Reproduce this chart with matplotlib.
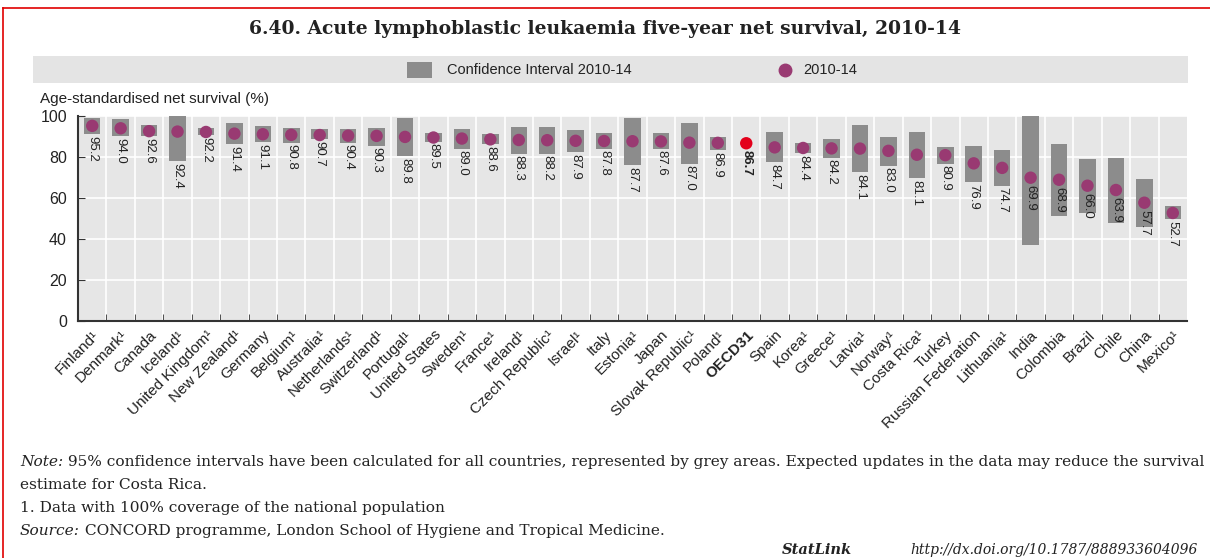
import numpy as np
import matplotlib.pyplot as plt
from matplotlib.patches import Rectangle
from matplotlib.lines import Line2D
from matplotlib.ticker import FixedLocator

plt.rcParams['font.family'] = ['Liberation Sans', 'DejaVu Sans']

countries = ["Finland¹", "Denmark¹", "Canada", "Iceland¹", "United Kingdom¹", "New Zealand¹",
             "Germany", "Belgium¹", "Australia¹", "Netherlands¹", "Switzerland¹", "Portugal¹",
             "United States", "Sweden¹", "France¹", "Ireland¹", "Czech Republic¹", "Israel¹",
             "Italy", "Estonia¹", "Japan", "Slovak Republic¹", "Poland¹", "OECD31", "Spain",
             "Korea¹", "Greece¹", "Latvia¹", "Norway¹", "Costa Rica¹", "Turkey",
             "Russian Federation", "Lithuania¹", "India", "Colombia", "Brazil", "Chile",
             "China", "Mexico¹"]
survival = [95.2, 94.0, 92.6, 92.4, 92.2, 91.4, 91.1, 90.8, 90.7, 90.4, 90.3, 89.8, 89.5,
            89.0, 88.6, 88.3, 88.2, 87.9, 87.8, 87.7, 87.6, 87.0, 86.9, 86.7, 84.7, 84.4,
            84.2, 84.1, 83.0, 81.1, 80.9, 76.9, 74.7, 69.9, 68.9, 66.0, 63.9, 57.7, 52.7]
ci_low = [91.0, 90.2, 90.2, 77.9, 90.5, 86.4, 87.3, 86.9, 88.7, 86.9, 85.6, 80.4, 87.4,
          84.0, 86.4, 81.7, 81.7, 82.5, 84.0, 76.0, 84.0, 76.8, 83.3, np.nan, 77.5, 82.0,
          79.6, 72.7, 75.8, 69.8, 76.8, 67.6, 66.0, 37.1, 51.0, 52.6, 48.0, 45.8, 49.7]
ci_high = [99.2, 98.4, 95.6, 100.8, 94.0, 96.7, 95.1, 94.3, 93.5, 93.8, 94.3, 98.9, 91.5,
           93.8, 91.0, 94.6, 94.6, 93.0, 91.5, 98.9, 91.5, 96.7, 89.9, np.nan, 92.3, 86.9,
           88.6, 95.4, 89.9, 92.2, 85.0, 85.6, 83.3, 100.8, 86.4, 78.8, 79.6, 69.3, 55.9]

bar_color = '#8c8c8c'
dot_color = '#993a72'
oecd_color = '#e3001b'
text_color = '#222222'

W, H = 1210, 558
fig = plt.figure(figsize=(W / 100, H / 100), dpi=100)
ax = fig.add_axes([78 / W, 1 - 321 / H, (1187 - 78) / W, (321 - 116) / H])

x = np.arange(len(countries))
low = np.array(ci_low)
high = np.array(ci_high)
vals = np.array(survival)

ax.set_facecolor('#e6e6e6')
ax.bar(x, high - low, bottom=low, width=0.58, color=bar_color, zorder=2)
colors = [oecd_color if c == "OECD31" else dot_color for c in countries]
ax.scatter(x, vals, s=80, color=colors, zorder=3, linewidths=0)

# value labels: under the interval, or just under the dot for the long low ones
for i, v in enumerate(vals):
    lo, hi = low[i], high[i]
    if np.isnan(lo) or (lo < 55 and hi - lo > 15):
        y = v - 3.5
    else:
        y = lo - 0.8
    ax.text(i, y, f"{v:.1f}", rotation=270, ha='center', va='top', fontsize=9.5,
            color=text_color, zorder=4,
            fontweight='bold' if countries[i] == "OECD31" else 'normal')

ax.set_xlim(-0.5, len(countries) - 0.5)
ax.set_ylim(0, 100)
ax.set_yticks([0, 20, 40, 60, 80, 100])
ax.tick_params(axis='y', labelsize=11.5, direction='in', length=5, colors='#333333',
               labelcolor=text_color, pad=8)
ax.set_xticks(x)
ax.set_xticklabels(countries, rotation=45, ha='right', rotation_mode='anchor', fontsize=11,
                   color=text_color)
for lbl in ax.get_xticklabels():
    if lbl.get_text() == "OECD31":
        lbl.set_fontweight('bold')
ax.tick_params(axis='x', length=0, pad=5)
ax.xaxis.set_minor_locator(FixedLocator(x[:-1] + 0.5))
ax.tick_params(axis='x', which='minor', direction='in', length=5, color='#333333')

ax.grid(axis='y', color='white', linewidth=1.2, zorder=1)
ax.grid(axis='x', which='minor', color='white', linewidth=1.2, zorder=1)
ax.set_axisbelow(True)
for s in ['top', 'right']:
    ax.spines[s].set_visible(False)
for s in ['left', 'bottom']:
    ax.spines[s].set_color('#333333')
    ax.spines[s].set_linewidth(1.5)

# title
fig.text(0.5, 1 - 29 / H, "6.40. Acute lymphoblastic leukaemia five-year net survival, 2010-14",
         ha='center', va='center', fontsize=13.5, fontweight='bold', family='DejaVu Serif',
         color=text_color)

# legend strip
fig.patches.append(Rectangle((33 / W, 1 - 83 / H), (1188 - 33) / W, 27 / H,
                             transform=fig.transFigure, facecolor='#e4e4e4', edgecolor='none'))
fig.patches.append(Rectangle((407 / W, 1 - 78 / H), 25 / W, 16 / H,
                             transform=fig.transFigure, facecolor=bar_color, edgecolor='none'))
fig.text(447 / W, 1 - 70 / H, "Confidence Interval 2010-14", ha='left', va='center',
         fontsize=10.5, color=text_color)
fig.add_artist(Line2D([785 / W], [1 - 70 / H], marker='o', markersize=9, color=dot_color,
                      linestyle='none', transform=fig.transFigure))
fig.text(803 / W, 1 - 70 / H, "2010-14", ha='left', va='center', fontsize=10.5,
         color=text_color)
fig.text(40 / W, 1 - 99 / H, "Age-standardised net survival (%)", ha='left', va='center',
         fontsize=11, color=text_color)

# notes
note = dict(fontsize=11.1, family='DejaVu Serif', color=text_color, va='center')
t = fig.text(20 / W, 1 - 462 / H, "Note:", ha='left', style='italic', **note)
ax.annotate(" 95% confidence intervals have been calculated for all countries, represented "
            "by grey areas. Expected updates in the data may reduce the survival",
            xy=(1, 0.5), xycoords=t, ha='left', annotation_clip=False, **note)
fig.text(20 / W, 1 - 485 / H, "estimate for Costa Rica.", ha='left', **note)
fig.text(20 / W, 1 - 508 / H, "1. Data with 100% coverage of the national population",
         ha='left', **note)
s = fig.text(20 / W, 1 - 531 / H, "Source:", ha='left', style='italic', **note)
ax.annotate(" CONCORD programme, London School of Hygiene and Tropical Medicine.",
            xy=(1, 0.5), xycoords=s, ha='left', annotation_clip=False, **note)
fig.text(782 / W, 1 - 550 / H, "StatLink", ha='left', style='italic', fontweight='bold',
         fontsize=10.5, family='DejaVu Serif', color=text_color, va='center')
fig.text(910 / W, 1 - 550 / H, "http://dx.doi.org/10.1787/888933604096", ha='left',
         va='center', fontsize=10, family='DejaVu Serif', style='italic', color=text_color)

# red frame
fig.add_artist(Line2D([3 / W, 1], [1 - 8 / H, 1 - 8 / H], color='#e00000',
                      linewidth=1.2, transform=fig.transFigure))
fig.add_artist(Line2D([3 / W, 3 / W], [0, 1 - 8 / H], color='#e00000',
                      linewidth=1.2, transform=fig.transFigure))

fig.savefig('out.png', dpi=100, facecolor='white')
